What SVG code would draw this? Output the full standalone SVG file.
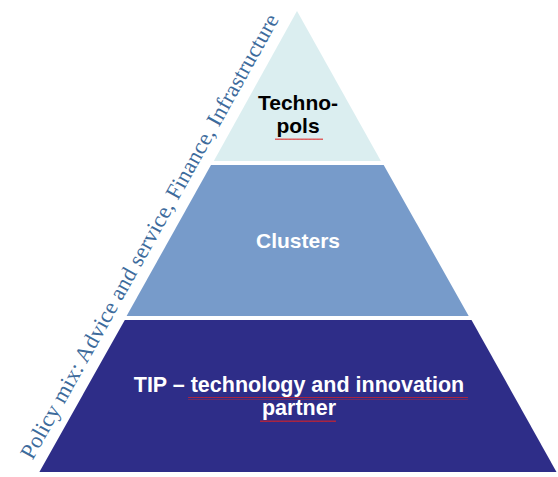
<svg xmlns="http://www.w3.org/2000/svg" width="558" height="477" viewBox="0 0 558 477">
<style>
.lbl{font-family:"Liberation Sans",Arial,sans-serif;font-weight:bold;text-anchor:middle}
</style>
<defs>
<pattern id="sq" width="4" height="3" patternUnits="userSpaceOnUse">
<path d="M0,2 L1,0.5 L2,2 L3,0.5 L4,2" fill="none" stroke="#e02020" stroke-width="0.8"/>
</pattern>
</defs>
<rect width="558" height="477" fill="#ffffff"/>
<g id="tier-top">
<polygon points="297,11 213.8,161 380.9,161" fill="#dbeef0"/>
<text class="lbl" x="298" y="110" font-size="21" fill="#000">Techno-</text>
<text class="lbl" x="298" y="133" font-size="21" fill="#000">pols</text>
<rect x="275" y="138" width="48" height="3" fill="url(#sq)"/>
</g>
<g id="tier-middle">
<polygon points="211,165 383.7,165 468.7,316 126.6,316" fill="#779bca"/>
<text class="lbl" x="298" y="248" font-size="21" fill="#fff">Clusters</text>
</g>
<g id="tier-bottom">
<polygon points="124.8,320 471.5,320 556.5,472 39.4,472" fill="#2e2d88"/>
<text class="lbl" x="299" y="392" font-size="21.5" fill="#fff">TIP – technology and innovation</text>
<text class="lbl" x="299" y="415" font-size="21.5" fill="#fff">partner</text>
<rect x="188" y="397" width="280" height="3" fill="url(#sq)"/>
<rect x="260" y="419" width="76" height="3" fill="url(#sq)"/>
</g>
<g id="policy-label">
<text transform="translate(156,240) rotate(-60.8)" font-family="'Liberation Serif','Times New Roman',serif" font-size="22.5" fill="#3d6b9c" text-anchor="middle" textLength="506" lengthAdjust="spacing">Policy mix: Advice and service, Finance, Infrastructure</text>
</g>
<g id="connectors"></g>
</svg>
